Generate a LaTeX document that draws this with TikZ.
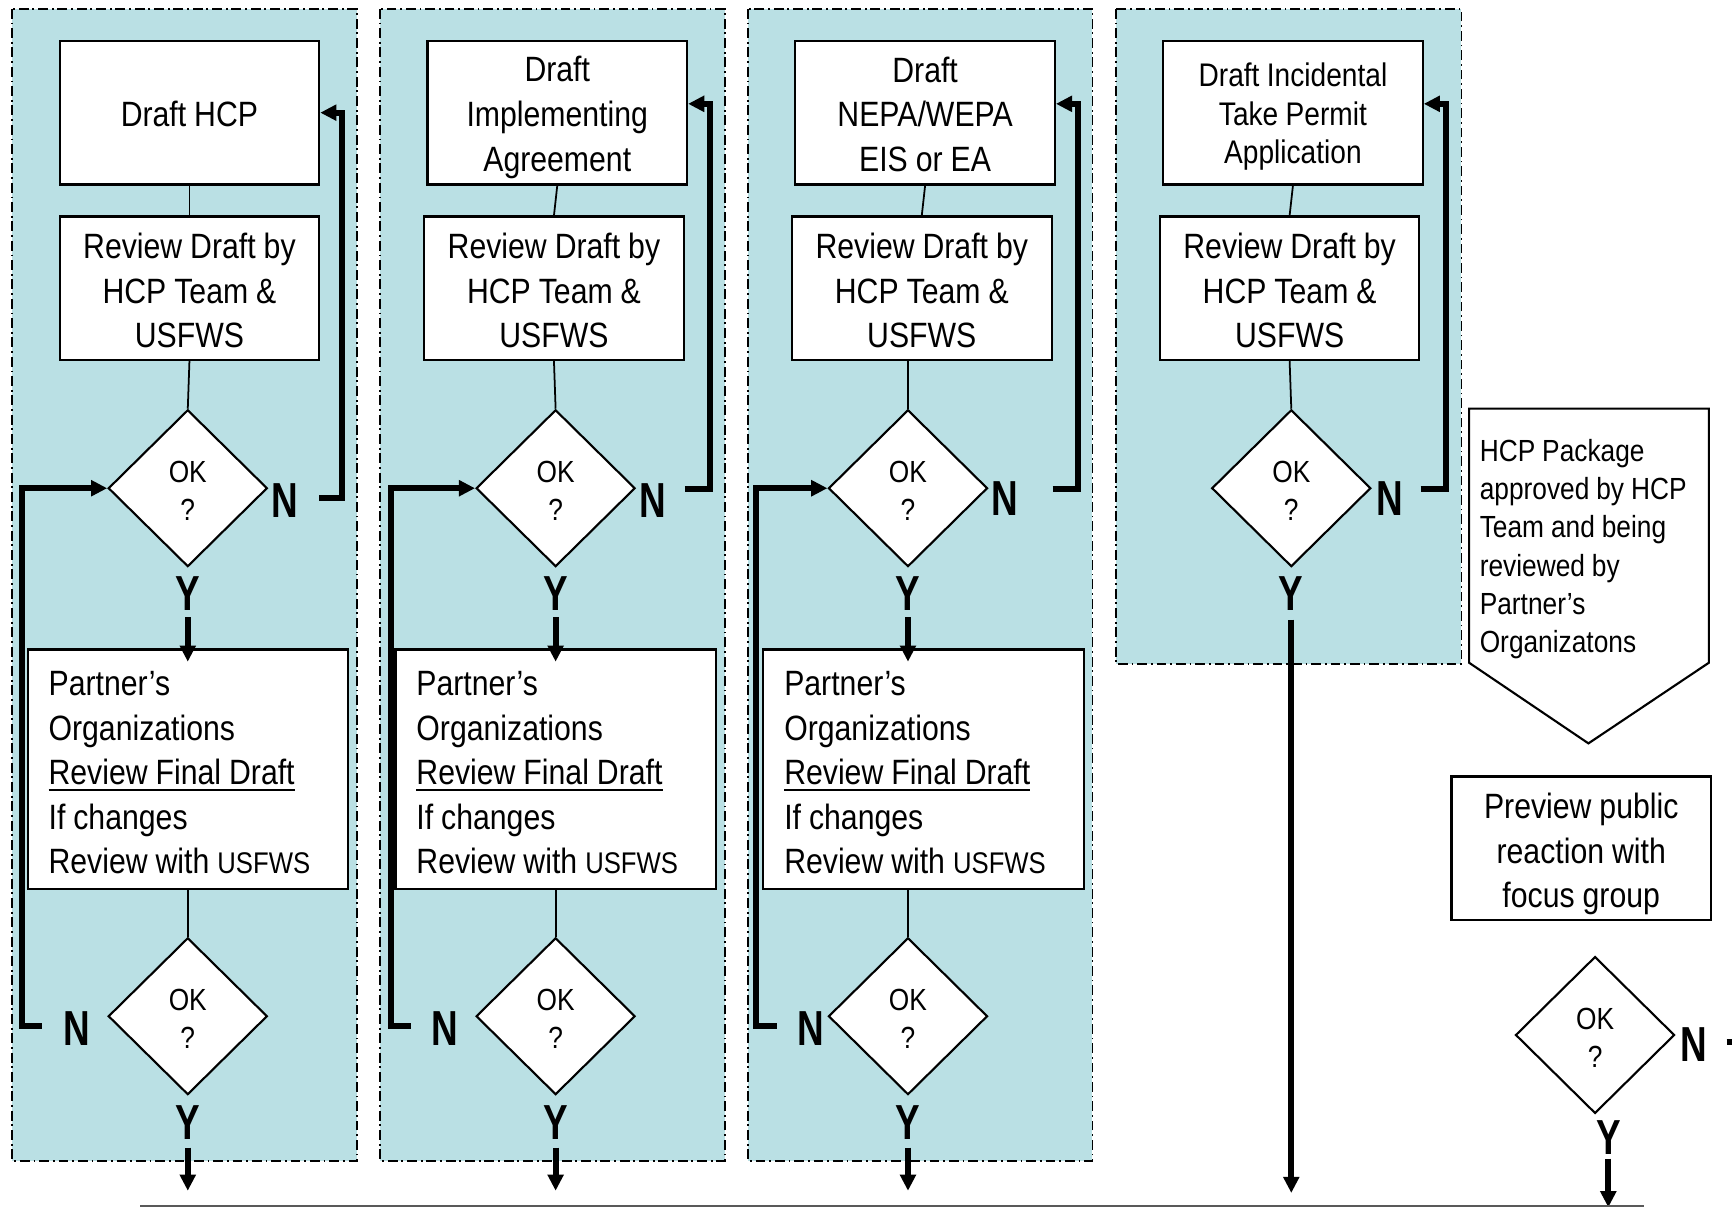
\documentclass[tikz,border=0pt]{standalone}
\usepackage{fontspec}
\setmainfont{Liberation Sans}[FakeStretch=0.86,WordSpace=0.95]
\newfontfamily\lblfont{Liberation Sans}[FakeStretch=0.75]
\usetikzlibrary{shapes.geometric,arrows.meta,calc}
\newdimen\U \U=0.11046mm
\newcommand\nsp{\spaceskip=0pt\xspaceskip=0pt\relax}
\newcommand\tst[1]{\nsp\rule{0pt}{#1}}
\definecolor{panelblue}{RGB}{186,224,228}
\tikzset{
  panel/.style={fill=panelblue,draw=black,line width=0.5pt,dash pattern=on 2.8pt off 1.1pt on 0.5pt off 1.1pt},
  box/.style={draw,fill=white,line width=0.6pt,minimum width={235*\U},minimum height={130*\U},inner sep=0pt,align=center,font=\fontsize{10}{12.7}\selectfont},
  pbox/.style={draw,fill=white,line width=0.6pt,text width={252*\U},inner xsep={19*\U},inner ysep=0pt,minimum height={217*\U},align=left,font=\fontsize{10}{12.7}\selectfont},
  dia/.style={diamond,draw,fill=white,line width=0.6pt,minimum width={144*\U},minimum height={142*\U},inner sep=0pt,align=center,font=\fontsize{8.7}{11}\selectfont},
  lbl/.style={inner sep=0pt,font=\lblfont\bfseries\fontsize{14}{14}\selectfont},
  thinl/.style={line width=0.5pt},
  thk/.style={line width=1.7pt},
  tharr/.style={line width=1.7pt,-{Triangle[length=4.6pt,width=4.4pt]}}
}
\begin{document}
\begin{tikzpicture}[x=\U,y=-\U]
\useasboundingbox (0,0) rectangle (1568,1093);
% panels
\path[panel] (11,8) rectangle (323,1051);
\path[panel] (344,8) rectangle (656,1051);
\path[panel] (677,8) rectangle (989,1051);
\path[panel] (1010,8) rectangle (1323,601);

% column 1
\node[box] (D1) at (171.5,102) {\tst{8.2pt}Draft HCP};
\node[box] (R1) at (171.5,261) {\tst{8.6pt}Review Draft by\\HCP Team \&\\USFWS};
\node[dia] (Q1) at (170,442) {\tst{7.6pt}OK\\?};
\node[lbl] (N1) at (258,453) {N};
\node[lbl] (Y1) at (170,537) {Y};
\node[pbox] (P1) at (170,696.5) {\tst{8.8pt}Partner’s\\Organizations\\\underline{Review Final Draft}\\If changes\\Review with {\fontsize{8.5}{12.7}\selectfont USFWS}};
\node[dia] (S1) at (170,920) {\tst{7.6pt}OK\\?};
\node[lbl] (M1) at (70,931) {N};
\node[lbl] (Z1) at (170,1016) {Y};

% column 2
\node[box] (D2) at (504.5,102) {\tst{10pt}Draft\\Implementing\\Agreement};
\node[box] (R2) at (501.5,261) {\tst{8.6pt}Review Draft by\\HCP Team \&\\USFWS};
\node[dia] (Q2) at (503,442) {\tst{7.6pt}OK\\?};
\node[lbl] (N2) at (591,453) {N};
\node[lbl] (Y2) at (503,537) {Y};
\node[pbox] (P2) at (503,696.5) {\tst{8.8pt}Partner’s\\Organizations\\\underline{Review Final Draft}\\If changes\\Review with {\fontsize{8.5}{12.7}\selectfont USFWS}};
\node[dia] (S2) at (503,920) {\tst{7.6pt}OK\\?};
\node[lbl] (M2) at (403,931) {N};
\node[lbl] (Z2) at (503,1016) {Y};

% column 3
\node[box] (D3) at (837.5,102) {\tst{8.1pt}Draft\\NEPA/WEPA\\EIS or EA};
\node[box] (R3) at (834.5,261) {\tst{8.6pt}Review Draft by\\HCP Team \&\\USFWS};
\node[dia] (Q3) at (822,442) {\tst{7.6pt}OK\\?};
\node[lbl] (N3) at (910,451) {N};
\node[lbl] (Y3) at (822,537) {Y};
\node[pbox] (P3) at (836,696.5) {\tst{8.8pt}Partner’s\\Organizations\\\underline{Review Final Draft}\\If changes\\Review with {\fontsize{8.5}{12.7}\selectfont USFWS}};
\node[dia] (S3) at (822,920) {\tst{7.6pt}OK\\?};
\node[lbl] (M3) at (734,931) {N};
\node[lbl] (Z3) at (822,1016) {Y};

% column 4
\node[box,font=\fontsize{9.3}{11}\selectfont] (D4) at (1170.5,102) {\tst{9pt}Draft Incidental\\Take Permit\\Application};
\node[box] (R4) at (1167.5,261) {\tst{8.6pt}Review Draft by\\HCP Team \&\\USFWS};
\node[dia] (Q4) at (1169,442) {\tst{7.6pt}OK\\?};
\node[lbl] (N4) at (1258,451) {N};
\node[lbl] (Y4) at (1169,537) {Y};

% right column
\draw[line width=0.6pt,fill=white] (1330,370) -- (1547,370) -- (1547,600) -- (1438,673) -- (1330,600) -- cycle;
\node[anchor=west,align=left,inner sep=0pt,font=\fontsize{8.7}{10.9}\selectfont] (HP) at (1339,497) {\nsp HCP Package\\approved by HCP\\Team and being\\reviewed by\\Partner’s\\Organizatons};
\node[box] (PV) at (1431.5,768) {\tst{10.6pt}Preview public\\reaction with\\focus group};
\node[dia] (Q5) at (1444,937) {\tst{7.6pt}OK\\?};
\node[lbl] (N5) at (1533,946) {N};
\node[lbl] (Y5) at (1456,1030) {Y};

% thin connectors
\draw[thinl] (D1.south) -- (R1.north);
\draw[thinl] (R1.south) -- (Q1.north);
\draw[thinl] (P1.south) -- (S1.north);
\draw[thinl] (D2.south) -- (R2.north);
\draw[thinl] (R2.south) -- (Q2.north);
\draw[thinl] (P2.south) -- (S2.north);
\draw[thinl] (D3.south) -- (R3.north);
\draw[thinl] (Q3.north |- R3.south) -- (Q3.north);
\draw[thinl] (S3.north |- P3.south) -- (S3.north);
\draw[thinl] (D4.south) -- (R4.north);
\draw[thinl] (R4.south) -- (Q4.north);

% right loops (N -> back to draft box)
\coordinate (a1) at (289,451); \coordinate (b1) at (309.5,102);
\draw[tharr] (a1) -| (b1) -- (D1.east);
\coordinate (a2) at (620,443); \coordinate (b2) at (643,94);
\draw[tharr] (a2) -| (b2) -- ($(D2.east)+(0,-8)$);
\coordinate (a3) at (953,443); \coordinate (b3) at (976,94);
\draw[tharr] (a3) -| (b3) -- ($(D3.east)+(0,-8)$);
\coordinate (a4) at (1286,443); \coordinate (b4) at (1309,94);
\draw[tharr] (a4) -| (b4) -- ($(D4.east)+(0,-8)$);

% left loops (N -> back to first decision)
\coordinate (l1) at (38,929); \coordinate (k1) at (20,442);
\draw[tharr] (l1) -| (k1) -- (Q1.west);
\coordinate (l2) at (372,929); \coordinate (k2) at (354,442);
\draw[tharr] (l2) -| (k2) -- (Q2.west);
\coordinate (l3) at (703,929); \coordinate (k3) at (684,442);
\draw[tharr] (l3) -| (k3) -- (Q3.west);

% Y arrows
\draw[tharr] ($(Y1.south)+(0,6)$) -- ($(P1.north)+(0,12)$);
\draw[tharr] ($(Y2.south)+(0,6)$) -- ($(P2.north)+(0,12)$);
\draw[tharr] ($(Y3.south)+(0,6)$) -- ($(P3.north)+(-14,12)$);
\coordinate (e1) at (170,1078);
\coordinate (e2) at (503,1078);
\coordinate (e3) at (822,1078);
\coordinate (e4) at (1169,1080);
\coordinate (e5) at (1456,1093);
\draw[tharr] ($(Z1.south)+(0,7)$) -- (e1);
\draw[tharr] ($(Z2.south)+(0,7)$) -- (e2);
\draw[tharr] ($(Z3.south)+(0,7)$) -- (e3);
\draw[tharr] ($(Y4.south)+(0,8)$) -- (e4);
\draw[tharr] ($(Y5.south)+(0,3)$) -- (e5);

% clipped stub at right of last N
\coordinate (f1) at (1563,943); \coordinate (f2) at (1575,943);
\draw[thk] (f1) -- (f2);

% bottom line
\coordinate (g1) at (127,1092); \coordinate (g2) at (1488,1092);
\draw[line width=0.5pt,draw=black!65] (g1) -- (g2);
\end{tikzpicture}
\end{document}
